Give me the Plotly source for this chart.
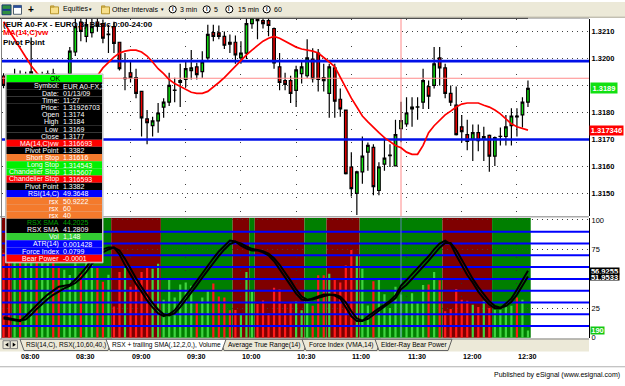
import plotly.graph_objects as go

# ---------------- data ----------------
times = ["07:51","07:54","07:57","08:00","08:03","08:06","08:09","08:12","08:15","08:18",
         "08:21","08:24","08:27","08:30","08:33","08:36","08:39","08:42","08:45","08:48",
         "08:51","08:54","08:57","09:00","09:03","09:06","09:09","09:12","09:15","09:18",
         "09:21","09:24","09:27","09:30","09:33","09:36","09:39","09:42","09:45","09:48",
         "09:51","09:54","09:57","10:00","10:03","10:06","10:09","10:12","10:15","10:18",
         "10:21","10:24","10:27","10:30","10:33","10:36","10:39","10:42","10:45","10:48",
         "10:51","10:54","10:57","11:00","11:03","11:06","11:09","11:12","11:15","11:18",
         "11:21","11:24","11:27","11:30","11:33","11:36","11:39","11:42","11:45","11:48",
         "11:51","11:54","11:57","12:00","12:03","12:06","12:09","12:12","12:15","12:18",
         "12:21","12:24","12:27","12:30","12:33","12:36"]

opens = [1.31935,1.31900,1.31875,1.31920,1.31905,1.31935,1.31925,1.31890,1.31925,1.31944,
         1.31920,1.31900,1.31944,1.32024,1.32135,1.32082,1.32096,1.32135,
         1.32129,1.32088,1.32118,1.32060,1.31925,1.31947,1.31929,1.31878,1.31776,1.31751,
         1.31769,1.31820,1.31838,1.31882,1.31911,1.31922,1.31955,1.31969,1.31951,1.32002,
         1.32096,1.32095,1.32082,1.32060,1.32060,1.32002,1.32020,1.32129,1.32160,1.32140,
         1.32140,1.32111,1.31969,1.31918,1.31918,1.31882,1.31944,1.31936,1.31998,1.32020,
         1.31929,1.31871,1.31965,1.31849,1.31809,1.31598,1.31500,1.31580,1.31653,1.31671,
         1.31511,1.31609,1.31640,1.31602,1.31740,1.31758,1.31813,1.31820,1.31838,1.31896,
         1.31900,1.32002,1.31965,1.31871,1.31827,1.31747,1.31718,1.31700,1.31725,1.31700,
         1.31715,1.31638,1.31711,1.31711,1.31751,1.31787,1.31791,1.31838]
highs = [1.31945,1.31935,1.31962,1.31955,1.31951,1.32078,1.31930,1.31951,1.31955,1.31962,
         1.31932,1.31930,1.32042,1.32150,1.32150,1.32155,1.32150,1.32155,
         1.32144,1.32125,1.32136,1.32062,1.32020,1.31991,1.31962,1.31880,1.31809,1.31784,
         1.31835,1.31853,1.31947,1.31929,1.31980,1.31991,1.32031,1.31984,1.32027,1.32125,
         1.32125,1.32122,1.32100,1.32089,1.32085,1.32064,1.32150,1.32165,1.32170,1.32155,
         1.32150,1.32115,1.32020,1.31947,1.31936,1.31973,1.31991,1.32071,1.32038,1.32035,
         1.31980,1.31980,1.31980,1.31889,1.31811,1.31653,1.31584,1.31711,1.31689,1.31682,
         1.31616,1.31707,1.31682,1.31773,1.31840,1.31856,1.31856,1.31856,1.31962,1.31918,
         1.32042,1.32042,1.31980,1.31900,1.31896,1.31791,1.31773,1.31755,1.31755,1.31747,
         1.31718,1.31711,1.31744,1.31791,1.31816,1.31816,1.31856,1.31918]
lows = [1.31890,1.31860,1.31865,1.31895,1.31890,1.31920,1.31880,1.31885,1.31905,1.31910,
        1.31885,1.31880,1.31900,1.32009,1.32064,1.32060,1.32078,1.32100,
        1.32056,1.32020,1.32020,1.31955,1.31882,1.31911,1.31853,1.31711,1.31682,1.31711,
        1.31725,1.31780,1.31824,1.31838,1.31820,1.31893,1.31922,1.31922,1.31929,1.31995,
        1.32064,1.32071,1.32035,1.32020,1.31980,1.31980,1.31998,1.32110,1.32071,1.32111,
        1.32082,1.31962,1.31882,1.31882,1.31835,1.31820,1.31907,1.31929,1.31911,1.31878,
        1.31878,1.31780,1.31780,1.31784,1.31570,1.31489,1.31420,1.31536,1.31584,1.31493,
        1.31493,1.31584,1.31598,1.31602,1.31690,1.31747,1.31747,1.31773,1.31813,1.31813,
        1.31889,1.31900,1.31853,1.31824,1.31715,1.31689,1.31660,1.31620,1.31656,1.31620,
        1.31580,1.31602,1.31678,1.31678,1.31678,1.31711,1.31744,1.31820]
closes = [1.31900,1.31875,1.31920,1.31905,1.31935,1.31950,1.31890,1.31930,1.31944,1.31920,
          1.31900,1.31925,1.32027,1.32118,1.32100,1.32125,1.32118,1.32120,
          1.32075,1.32090,1.32056,1.31962,1.31927,1.31929,1.31871,1.31780,1.31762,1.31769,
          1.31798,1.31838,1.31900,1.31883,1.31918,1.31962,1.31965,1.31940,1.31987,1.32089,
          1.32082,1.32082,1.32049,1.32053,1.32013,1.32020,1.32129,1.32150,1.32140,1.32129,
          1.32122,1.31984,1.31911,1.31904,1.31871,1.31958,1.31969,1.32002,1.31925,1.31922,
          1.31918,1.31969,1.31842,1.31813,1.31573,1.31518,1.31580,1.31638,1.31678,1.31525,
          1.31598,1.31631,1.31642,1.31718,1.31770,1.31798,1.31820,1.31821,1.31918,1.31860,
          1.31980,1.31965,1.31871,1.31838,1.31718,1.31729,1.31693,1.31725,1.31696,1.31711,
          1.31638,1.31707,1.31712,1.31747,1.31787,1.31784,1.31838,1.31889]
ma_vw14 = [1.32136,1.32104,1.32071,1.32035,1.32005,1.31973,1.31947,1.31925,1.31907,1.31896,
           1.31889,1.31885,1.31889,1.31893,1.31904,1.31915,1.31925,1.31936,
           1.31965,1.31984,1.32005,1.32020,1.32027,1.32031,1.32031,1.32024,1.32009,1.31987,
           1.31962,1.31944,1.31922,1.31907,1.31896,1.31885,1.31875,1.31871,1.31871,1.31878,
           1.31893,1.31911,1.31929,1.31951,1.31973,1.31995,1.32013,1.32031,1.32049,1.32064,
           1.32075,1.32082,1.32075,1.32064,1.32053,1.32042,1.32035,1.32031,1.32027,1.32020,
           1.32005,1.31987,1.31969,1.31929,1.31889,1.31853,1.31820,1.31787,1.31765,1.31744,
           1.31725,1.31707,1.31693,1.31678,1.316693,1.31653,1.31645,1.31645,1.31678,1.31725,
           1.31751,1.31773,1.31791,1.31805,1.31820,1.31831,1.31835,1.31835,1.31835,1.31827,
           1.31820,1.31809,1.31795,1.31776,1.31758,1.31747,1.31740,1.317346]
volume = [2250,2300,2150,2000,2050,2200,2100,2000,2150,2000,1870,1800,1660,2050,1740,2100,1950,1870,
          1482,1672,832,1742,1916,1352,1526,1742,1898,1828,
          1958,1006,1542,1066,1412,1464,1378,944,1066,1248,
          1438,1092,1066,728,736,632,1742,1222,892,988,
          658,1326,1282,892,918,962,728,1032,850,1656,
          1656,1698,1586,1464,1916,2322,2176,1828,858,1500,
          1542,1152,788,1352,1148,918,1178,918,1396,1412,
          1742,1526,702,762,1292,1006,980,876,814,980,
          788,746,746,918,850,1066,1006,190]
rsx_sma_fast = [16.3,15.4,14.6,14.2,18.3,23.3,28.3,32.5,36.7,40,43.3,44.2,45,49.2,54.2,60,66.7,72.5,
                75,76.7,76.7,70.8,61.7,53.3,45.8,39.2,31.7,25.8,
                20.8,18.3,20,23.3,30,35.8,41.7,48.3,55,61.7,
                67.5,73.3,78.3,82.5,81.7,78.3,75.8,74.2,74.2,72.5,
                70,65,58.3,51.7,45,37.5,32.5,31.7,33.3,35,
                36.7,36.7,35.8,33.3,25.8,18.3,14.2,14.2,18.3,22,
                25,28,31.5,36,44.2025,49,54,59,64,69.2,
                75,80,82.5,79.5,70,61.7,53.3,46.7,39.2,33.3,
                28.3,25,25,29.2,33.3,40.8,48.3,56.9255]
rsx_sma_slow = [17.5,16.5,15.5,14.8,15.5,19.5,24.5,29,33,36.5,39.5,42,44,46.5,50.5,56,62.5,68.5,
                72.5,75,76.5,74,67,58.5,50.5,43,36,29.5,
                24,20,19,21,26,32,38,44.5,51,57.5,
                63.5,69.5,75,79.5,81.5,80,77.5,75.5,74.5,73.5,
                71.5,67.5,62,55.5,48.5,41,35,32.5,32.5,34,
                35.5,36.5,36.5,35,30,22.5,16.5,14.5,16,19.5,
                23,26.5,29.5,33.5,41.2809,45,50,55,60,65.5,
                71,76.5,80.5,80.5,74.5,66,57.5,50,43,36.5,
                31,27,25.5,27,30.5,36.5,44,51.9533]
# RSX slope state per run of candles (first candle, last candle, state)
band_segments = [("07:51","07:54","down"),("07:57","08:48","up"),("08:51","09:15","down"),
                 ("09:18","09:54","up"),("09:57","10:03","down"),("10:06","10:06","up"),
                 ("10:09","10:33","down"),("10:36","10:45","up"),("10:48","11:03","down"),
                 ("11:06","11:48","up"),("11:51","12:15","down"),("12:18","12:36","up")]
price_levels = [1.3199, 1.3170]
rsx_levels = [10, 20, 30, 40, 50, 60, 70, 80, 90]
price_ticks = [1.3150, 1.3160, 1.3170, 1.3180, 1.3190, 1.3200, 1.3210]
rsx_ticks = [0, 25, 50, 75, 100]
time_ticks = ["08:00","08:30","09:00","09:30","10:00","10:30","11:00","11:30","12:00","12:30"]
cursor_time = "11:27"
cursor_price = 1.31926703
info_rows = [
    ("OK", "", "#00FF00", "#000000"),
    ("Symbol:", "EUR A0-FX,3", "#000000", "#FFFFFF"),
    ("Date:", "01/13/09", "#000000", "#FFFFFF"),
    ("Time:", "11:27", "#000000", "#FFFFFF"),
    ("Price:", "1.31926703", "#000000", "#FFFFFF"),
    ("Open", "1.3174", "#000000", "#FFFFFF"),
    ("High", "1.3184", "#000000", "#FFFFFF"),
    ("Low", "1.3169", "#000000", "#FFFFFF"),
    ("Close", "1.3177", "#000000", "#FFFFFF"),
    ("MA(14,C)vw", "1.316693", "#FF0000", "#FFFFFF"),
    ("Pivot Point", "1.3382", "#000000", "#FFFFFF"),
    ("Short Stop", "1.31616", "#F47A2C", "#FFFFFF"),
    ("Long Stop", "1.314543", "#00F000", "#FFFFFF"),
    ("Chandelier Stop", "1.315607", "#00F000", "#FFFFFF"),
    ("Chandelier Stop", "1.316593", "#FF0000", "#FFFFFF"),
    ("Pivot Point", "1.3382", "#000000", "#FFFFFF"),
    ("RSI(14,C)", "49.3648", "#0000FF", "#FFFFFF"),
    ("rsx", "50.9222", "#F47A2C", "#FFFFFF"),
    ("rsx", "60", "#F47A2C", "#FFFFFF"),
    ("rsx", "40", "#F47A2C", "#FFFFFF"),
    ("RSX SMA", "44.2025", "#000000", "#00A000"),
    ("RSX SMA", "41.2809", "#000000", "#FFFFFF"),
    ("Vol", "1,148", "#33CC33", "#FFFFFF"),
    ("ATR(14)", "0.001428", "#0000FF", "#FFFFFF"),
    ("Force Index", "0.0799", "#0000FF", "#FFFFFF"),
    ("Bear Power", "-0.0001", "#FF0000", "#FFFFFF"),
]
tab_names = ["RSI(14,C), RSX(,10,60,40,)", "RSX + trailing SMA(,12,2,0,), Volume",
             "Average True Range(14)", "Force Index (VMA,14)", "Elder-Ray Bear Power"]
toolbar_items = ["Equities", "Other Intervals", "3 min", "5", "15 min", "60"]

# ---------------- helpers ----------------
W, H = 625, 386
FONT = "Liberation Sans"
def px(x): return x / W
def py(y): return 1 - y / H
def tm(s):
    h, m = s.split(":")
    return int(h) * 60 + int(m)

x = [tm(t) for t in times]
XR = [470.15, 789.17]
YR = [1.314164, 1.321473]
VOLR = [0, 3172]
RSXR = [0, 101.67]

fig = go.Figure()

# upper panel: crosshair first (behind candles)
fig.add_trace(go.Scatter(x=[tm(cursor_time)] * 2, y=YR, mode="lines",
                         line=dict(color="#FF8A8A", width=1), xaxis="x", yaxis="y", hoverinfo="skip"))
fig.add_trace(go.Scatter(x=XR, y=[cursor_price] * 2, mode="lines",
                         line=dict(color="#FF8A8A", width=1), xaxis="x", yaxis="y", hoverinfo="skip"))
fig.add_trace(go.Candlestick(x=x, open=opens, high=highs, low=lows, close=closes,
                             increasing=dict(fillcolor="#10E010", line=dict(color="#000000", width=1.2)),
                             decreasing=dict(fillcolor="#F00000", line=dict(color="#000000", width=1.2)),
                             whiskerwidth=0, xaxis="x", yaxis="y", hoverinfo="skip"))
for lv in price_levels:
    fig.add_trace(go.Scatter(x=XR, y=[lv, lv], mode="lines", line=dict(color="#0010E8", width=2.6),
                             xaxis="x", yaxis="y", hoverinfo="skip"))
fig.add_trace(go.Scatter(x=x, y=ma_vw14, mode="lines", line=dict(color="#FF0000", width=1.7),
                         xaxis="x", yaxis="y", hoverinfo="skip"))

# lower panel: volume (base axis y2), levels + RSX SMA on overlay y3
vcol = ["#3FD43F" if c >= o else "#FF1A1A" for o, c in zip(opens, closes)]
fig.add_trace(go.Bar(x=x, y=volume, width=1.2, marker=dict(color=vcol, line=dict(width=0)),
                     xaxis="x2", yaxis="y2", hoverinfo="skip"))
for lv in rsx_levels:
    fig.add_trace(go.Scatter(x=XR, y=[lv, lv], mode="lines", line=dict(color="#0000FF", width=2),
                             xaxis="x2", yaxis="y3", hoverinfo="skip"))
fig.add_trace(go.Scatter(x=[tm(cursor_time)] * 2, y=RSXR, mode="lines",
                         line=dict(color="#5A86B0", width=1), xaxis="x2", yaxis="y3", hoverinfo="skip"))
fig.add_trace(go.Scatter(x=x, y=rsx_sma_slow, mode="lines", line=dict(color="#000000", width=2),
                         xaxis="x2", yaxis="y3", hoverinfo="skip"))
fig.add_trace(go.Scatter(x=x, y=rsx_sma_fast, mode="lines", line=dict(color="#000000", width=2),
                         xaxis="x2", yaxis="y3", hoverinfo="skip"))

shapes = []
ann = []

def rect(x0, y0, x1, y1, fill, line=None, lw=0, layer="above"):
    shapes.append(dict(type="rect", xref="paper", yref="paper", x0=px(x0), x1=px(x1),
                       y0=py(y1), y1=py(y0), fillcolor=fill,
                       line=dict(color=line or fill, width=lw), layer=layer))

def hline(x0, x1, y, color, w=1, layer="above"):
    shapes.append(dict(type="line", xref="paper", yref="paper", x0=px(x0), x1=px(x1),
                       y0=py(y), y1=py(y), line=dict(color=color, width=w), layer=layer))

def vline(xx, y0, y1, color, w=1, layer="above"):
    shapes.append(dict(type="line", xref="paper", yref="paper", x0=px(xx), x1=px(xx),
                       y0=py(y0), y1=py(y1), line=dict(color=color, width=w), layer=layer))

def text(xx, yy, s, size=8, color="#000000", bold=False, xanchor="left"):
    ann.append(dict(xref="paper", yref="paper", x=px(xx), y=py(yy), text=s, showarrow=False,
                    xanchor=xanchor, yanchor="middle", borderpad=0,
                    font=dict(family=FONT, size=size, color=color, weight="bold" if bold else "normal")))

# RSX-slope background bands
for a, b, state in band_segments:
    shapes.append(dict(type="rect", xref="x2", yref="paper", x0=tm(a) - 1.5, x1=tm(b) + 1.5,
                       y0=py(342), y1=py(220), fillcolor="#7F0000" if state == "down" else "#007F00",
                       line=dict(width=0), layer="below"))

# frame lines
hline(0, 528, 16.5, "#000000", 1)
hline(528, 589, 16.5, "#A0A0A0", 1)
hline(0, 589, 218.8, "#808080", 1)
vline(1.5, 17, 343, "#808080", 1)

# toolbar
rect(0, 0, 625, 15.5, "#ECE9D8", layer="above")
hline(0, 625, 15.5, "#ACA899", 1)
rect(2, 3, 11, 13, "#2F8F3F", line="#1A3A70", lw=1)
rect(2.5, 7, 10.5, 9, "#1A3A90")
rect(13.5, 3.5, 21.5, 12.5, "#FFFFFF", line="#506070", lw=1)
rect(13.5, 3.5, 21.5, 6, "#2A4E9A")
text(30.5, 7.5, "+", 10, bold=True, xanchor="center")
for fx in (50.5, 101.5):
    rect(fx, 5, fx + 8, 12, "#F8E08C", line="#B8962E", lw=1)
    rect(fx, 4, fx + 3.5, 5, "#F8E08C", line="#B8962E", lw=1)
text(62, 7.5, toolbar_items[0], 7)
text(89.5, 7.5, "▼", 4.5, xanchor="center")
text(111, 7.5, toolbar_items[1], 7)
text(162, 7.5, "▼", 4.5, xanchor="center")
for cx, lx, s in ((172.7, 179, toolbar_items[2]), (206.7, 213, toolbar_items[3]),
                  (229.3, 237, toolbar_items[4]), (266.7, 273, toolbar_items[5])):
    shapes.append(dict(type="circle", xref="paper", yref="paper", x0=px(cx - 3.6), x1=px(cx + 3.6),
                       y0=py(11.1), y1=py(3.9), line=dict(color="#000000", width=1),
                       fillcolor="#FFFFFF", layer="above"))
    text(cx, 7.6, "I", 5.5, bold=True, xanchor="center")
    text(lx, 7.5, s, 7)

# chart labels (top-left)
text(2, 22.5, "(EUR A0-FX - EURO,3) Basic,0:00-24:00", 8, bold=True)
text(2, 31.5, "MA(14,C)vw", 8, color="#FF0000", bold=True)
text(2, 41, "Pivot Point", 8, bold=True)

# info box
BX0, BX1, BY0, RH = 6.5, 102, 74.3, 7.32
rect(BX0 - 1, BY0 - 1, BX1 + 1, BY0 + RH * len(info_rows) + 1, "#D8D8D8", line="#C0C0C0", lw=1)
for i, (lab, val, bg, fg) in enumerate(info_rows):
    y0 = BY0 + i * RH
    rect(BX0, y0, BX1, y0 + RH, bg)
    yc = y0 + RH / 2 + 0.3
    if val == "":
        text(55, yc, lab, 7, color=fg, xanchor="center")
    else:
        text(60, yc, lab, 7, color=fg, xanchor="right")
        text(62, yc, val, 7, color=fg, xanchor="left")

# right-side value flags
def flag(yv, yref, s, bg, x0, w, h):
    ann.append(dict(xref="paper", yref=yref, x=px(x0), y=yv, text=s, showarrow=False,
                    xanchor="left", yanchor="middle", bgcolor=bg, width=w, height=h, borderpad=0,
                    align="center", font=dict(family=FONT, size=7.5, color="#FFFFFF", weight="bold")))
flag(round(closes[-1], 4), "y", f"{round(closes[-1], 4):.4f}", "#12E012", 590, 26, 10)
flag(ma_vw14[-1], "y", f"{ma_vw14[-1]:.6f}", "#FF0000", 589, 33, 9)
flag(rsx_sma_fast[-1], "y3", f"{rsx_sma_fast[-1]:.4f}", "#000000", 589, 29, 6)
flag(rsx_sma_slow[-1], "y3", f"{rsx_sma_slow[-1]:.4f}", "#000000", 589, 29, 6)
flag(volume[-1], "y2", f"{volume[-1]}", "#12C812", 590, 13, 7)

# tabs strip
rect(0, 343, 589, 356, "#ECE9D8", layer="above")
hline(0, 589, 343.2, "#808080", 1)
for bx in (3, 10.5):
    rect(bx, 345, bx + 7, 353, "#ECE9D8", line="#808080", lw=1)
shapes.append(dict(type="path", xref="paper", yref="paper", layer="above", fillcolor="#000000",
                   line=dict(width=0),
                   path=f"M{px(8.3)},{py(346.8)} L{px(5.2)},{py(349)} L{px(8.3)},{py(351.2)} Z"))
shapes.append(dict(type="path", xref="paper", yref="paper", layer="above", fillcolor="#000000",
                   line=dict(width=0),
                   path=f"M{px(12.7)},{py(346.8)} L{px(15.8)},{py(349)} L{px(12.7)},{py(351.2)} Z"))
tab_geom = [(20, 112), (106, 226), (220, 308), (302, 381), (375, 452)]
order = [0, 2, 3, 4, 1]
for k in order:
    a, b = tab_geom[k]
    fill = "#FFFFFF" if k == 1 else "#ECE9D8"
    shapes.append(dict(type="path", xref="paper", yref="paper", layer="above", fillcolor=fill,
                       line=dict(color="#606060", width=1),
                       path=f"M{px(a)},{py(343.5)} L{px(a + 4)},{py(355)} L{px(b - 4)},{py(355)} L{px(b)},{py(343.5)} Z"))
for k, nm in enumerate(tab_names):
    a, b = tab_geom[k]
    text((a + b) / 2, 349.3, nm, 6.6, xanchor="center")

# time labels
for t in time_ticks:
    ann.append(dict(xref="x2", yref="paper", x=tm(t), y=py(361.5), text=t, showarrow=False,
                    xanchor="left", yanchor="middle", borderpad=0,
                    font=dict(family=FONT, size=7.2, color="#000000", weight="bold")))

# footer
hline(0, 625, 371.5, "#B0B0B0", 1)
text(621, 379.5, "Published by eSignal (www.esignal.com)", 7, xanchor="right")

# tick labels hidden behind the value flags in the reference
price_ticktext = ["" if abs(v - 1.3190) < 1e-9 else f"{v:.4f}" for v in price_ticks]
rsx_ticktext = ["" if v == 50 else str(v) for v in rsx_ticks]

grid_h = dict(showgrid=True, gridcolor="#404040", gridwidth=1, griddash="1px,4px")
fig.update_layout(
    width=W, height=H, margin=dict(l=0, r=0, t=0, b=0),
    paper_bgcolor="#FFFFFF", plot_bgcolor="#FFFFFF", showlegend=False, boxgap=0.32,
    xaxis=dict(domain=[px(2), px(589)], range=XR, anchor="y", showticklabels=False, ticks="",
               tickvals=[tm(t) for t in time_ticks], showgrid=True, gridcolor="#404040",
               griddash="1px,12.75px", zeroline=False, rangeslider=dict(visible=False)),
    yaxis=dict(domain=[py(218), py(17)], range=YR, side="right", anchor="x", tickvals=price_ticks,
               ticktext=price_ticktext, ticks="", showline=True,
               linecolor="#000000", linewidth=1, zeroline=False,
               tickfont=dict(family=FONT, size=7.5, color="#000000", weight="bold"), **grid_h),
    xaxis2=dict(domain=[px(2), px(589)], range=XR, anchor="y2", showticklabels=False, ticks="",
                tickvals=[tm(t) for t in time_ticks], showgrid=True, gridcolor="#303030",
                griddash="1px,12px", zeroline=False),
    yaxis2=dict(domain=[py(342), py(220)], range=VOLR, anchor="x2", visible=False, showgrid=False),
    yaxis3=dict(range=RSXR, overlaying="y2", anchor="x2", side="right", tickvals=rsx_ticks,
                ticktext=rsx_ticktext, ticks="", showline=True, linecolor="#000000", linewidth=1,
                zeroline=False, tickfont=dict(family=FONT, size=7.5, color="#000000"), **grid_h),
    shapes=shapes, annotations=ann,
)
fig.write_html("out.html")
